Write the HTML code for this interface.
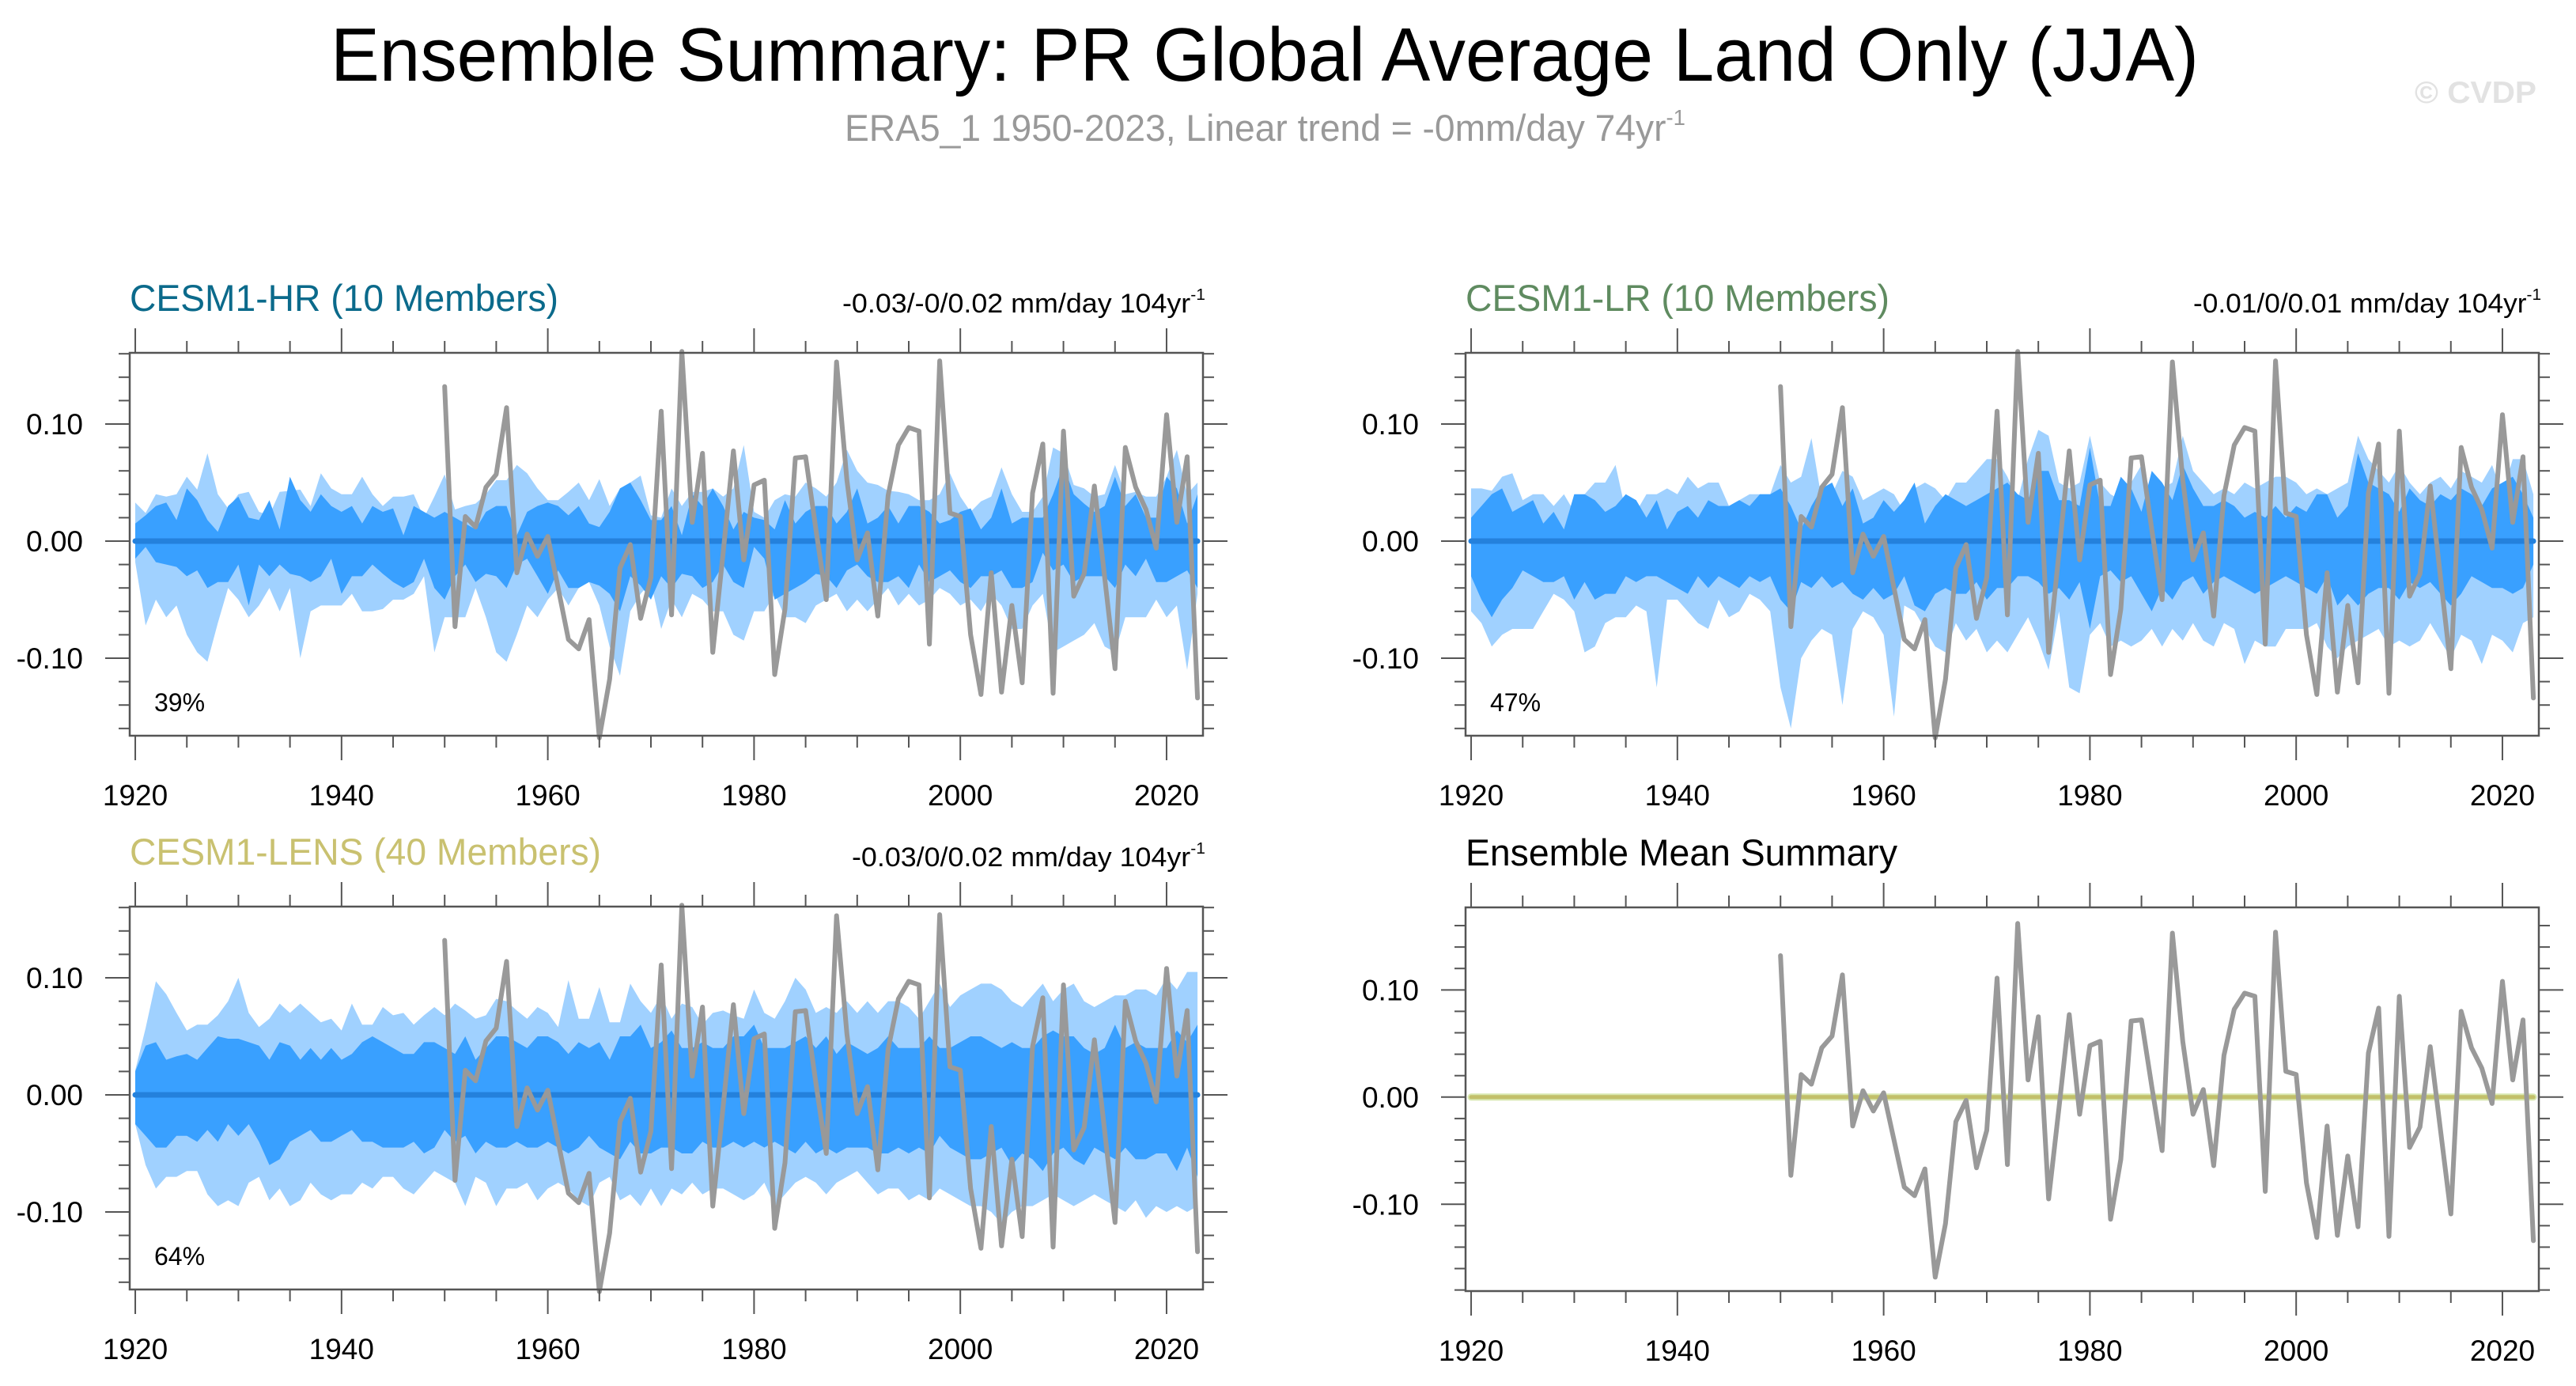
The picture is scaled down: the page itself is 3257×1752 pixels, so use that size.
<!DOCTYPE html>
<html><head><meta charset="utf-8"><title>Ensemble Summary</title>
<style>html,body{margin:0;padding:0;background:#fff}svg{display:block}text{font-family:"Liberation Sans",sans-serif}</style>
</head><body>
<svg id="root" xmlns="http://www.w3.org/2000/svg" width="3257" height="1752" viewBox="0 0 3257 1752">
<text x="418" y="102" font-size="96" textLength="2362" lengthAdjust="spacingAndGlyphs">Ensemble Summary: PR Global Average Land Only (JJA)</text>
<text x="1068" y="178" font-size="47" fill="#999" textLength="1063" lengthAdjust="spacingAndGlyphs">ERA5_1 1950-2023, Linear trend = -0mm/day 74yr<tspan font-size="28" dy="-20">-1</tspan></text>
<text x="3053" y="130" font-size="39" font-weight="bold" fill="#e2e2e2" textLength="154" lengthAdjust="spacingAndGlyphs">© CVDP</text>
<g id="panels"></g>
</svg>
<script>
const years = [];
for (let y = 1920; y <= 2023; y++) years.push(y);
const obsYears = [];
for (let y = 1950; y <= 2023; y++) obsYears.push(y);

const obsValues = [0.132,-0.073,0.021,0.012,0.046,0.057,0.114,-0.027,0.006,-0.013,
0.004,-0.040,-0.084,-0.092,-0.067,-0.168,-0.118,-0.023,-0.003,-0.066,
-0.031,0.111,-0.063,0.162,0.016,0.075,-0.095,-0.010,0.077,-0.016,
0.048,0.052,-0.114,-0.058,0.071,0.072,0.010,-0.050,0.153,0.052,
-0.016,0.007,-0.064,0.039,0.082,0.097,0.094,-0.088,0.154,0.024,
0.021,-0.080,-0.131,-0.027,-0.129,-0.055,-0.121,0.041,0.083,-0.130,
0.094,-0.047,-0.028,0.047,-0.031,-0.109,0.080,0.046,0.027,-0.006,
0.108,0.016,0.072,-0.134];

const ensMean = [0,0,0,0,0,0,0,0,0,0,0,0,0,0,0,0,0,0,0,0,0,0,0,0,0,0,0,0,0,0,0,0,0,0,0,0,0,0,0,0,0,0,0,0,0,0,0,0,0,0,0,0,0,0,0,0,0,0,0,0,0,0,0,0,0,0,0,0,0,0,0,0,0,0,0,0,0,0,0,0,0,0,0,0,0,0,0,0,0,0,0,0,0,0,0,0,0,0,0,0,0,0,0,0];

const hrLightUpper = [.033,.024,.040,.038,.040,.055,.044,.075,.040,.028,.040,.042,.025,.022,.042,.043,.044,.030,.058,.045,.040,.040,.055,.040,.030,.038,.038,.040,.020,.038,.057,.027,.030,.032,.040,.052,.052,.065,.058,.045,.035,.035,.042,.050,.035,.053,.030,.045,.050,.056,.022,.020,.045,.030,.042,.042,.045,.038,.045,.082,.025,.020,.035,.040,.038,.050,.045,.038,.050,.078,.060,.050,.048,.043,.042,.040,.035,.035,.040,.058,.038,.025,.034,.038,.063,.040,.025,.025,.038,.080,.075,.048,.045,.038,.040,.065,.040,.042,.038,.038,.055,.078,.040,.050];
const hrDarkUpper = [.015,.022,.030,.033,.018,.045,.035,.018,.008,.030,.038,.020,.018,.035,.010,.055,.035,.025,.040,.030,.025,.030,.015,.030,.025,.028,.005,.030,.025,.020,.025,.020,.015,.010,.025,.030,.030,.005,.025,.030,.033,.030,.022,.030,.015,.012,.025,.045,.050,.035,.018,.018,.030,.005,.040,.030,.045,.030,.010,.025,.020,.018,.010,.035,.015,.025,.030,.030,.015,.025,.045,.015,.020,.030,.015,.030,.030,.025,.015,.018,.025,.028,.010,.020,.045,.015,.020,.020,.020,.040,.065,.040,.032,.025,.030,.055,.030,.040,.020,.020,.055,.045,.015,.040];
const hrDarkLower = [-.015,-.005,-.018,-.020,-.022,-.030,-.025,-.040,-.035,-.035,-.020,-.055,-.020,-.030,-.020,-.028,-.030,-.035,-.030,-.015,-.045,-.030,-.030,-.020,-.028,-.035,-.040,-.035,-.015,-.040,-.050,-.030,-.020,-.035,-.028,-.030,-.040,-.020,-.015,-.030,-.045,-.025,-.040,-.040,-.035,-.038,-.045,-.060,-.030,-.038,-.050,-.030,-.040,-.028,-.030,-.040,-.035,-.020,-.035,-.040,-.005,-.015,-.050,-.045,-.040,-.035,-.028,-.030,-.040,-.025,-.020,-.030,-.035,-.035,-.030,-.040,-.020,-.035,-.030,-.025,-.035,-.040,-.030,-.030,-.025,-.040,-.040,-.035,-.010,-.025,-.020,-.035,-.030,-.030,-.030,-.040,-.020,-.030,-.015,-.035,-.035,-.030,-.025,-.040];
const hrLightLower = [-.018,-.072,-.050,-.065,-.055,-.080,-.095,-.103,-.070,-.040,-.050,-.065,-.055,-.040,-.060,-.040,-.100,-.060,-.055,-.055,-.055,-.045,-.060,-.060,-.058,-.050,-.050,-.045,-.030,-.095,-.065,-.065,-.065,-.040,-.065,-.095,-.103,-.080,-.055,-.065,-.050,-.040,-.055,-.040,-.035,-.055,-.090,-.115,-.060,-.045,-.035,-.075,-.050,-.065,-.045,-.050,-.060,-.060,-.080,-.085,-.060,-.060,-.045,-.065,-.065,-.070,-.055,-.050,-.045,-.060,-.050,-.060,-.050,-.040,-.055,-.045,-.055,-.050,-.040,-.045,-.055,-.050,-.060,-.045,-.055,-.075,-.075,-.055,-.045,-.095,-.090,-.085,-.080,-.070,-.090,-.095,-.065,-.065,-.065,-.050,-.065,-.055,-.110,-.045];

const lrLightUpper = [.045,.045,.043,.055,.058,.035,.040,.040,.030,.040,.025,.040,.050,.050,.065,.025,.025,.040,.040,.045,.040,.055,.045,.050,.050,.030,.035,.040,.040,.040,.065,.050,.055,.088,.035,.040,.060,.055,.035,.040,.045,.040,.025,.045,.050,.045,.035,.050,.050,.060,.070,.070,.055,.035,.070,.095,.090,.050,.045,.050,.090,.050,.040,.035,.050,.065,.040,.045,.050,.090,.060,.050,.040,.045,.040,.050,.045,.050,.055,.055,.050,.040,.045,.040,.045,.050,.090,.070,.060,.050,.065,.050,.040,.050,.055,.045,.060,.055,.050,.065,.040,.070,.070,.040];
const lrDarkUpper = [.020,.030,.040,.045,.025,.030,.035,.015,.025,.010,.040,.040,.035,.025,.030,.040,.035,.020,.035,.010,.025,.030,.020,.035,.030,.030,.035,.030,.040,.040,.045,.030,.010,.030,.045,.050,.030,.045,.015,.020,.035,.025,.035,.050,.015,.030,.040,.035,.030,.035,.040,.045,.050,.040,.035,.060,.060,.035,.035,.030,.080,.030,.030,.055,.045,.025,.060,.050,.035,.065,.045,.030,.030,.035,.030,.020,.025,.020,.030,.020,.030,.025,.040,.040,.020,.030,.075,.050,.045,.040,.025,.045,.035,.030,.040,.035,.045,.040,.030,.045,.050,.055,.040,.020];
const lrDarkLower = [-.030,-.050,-.065,-.050,-.040,-.025,-.030,-.035,-.035,-.030,-.050,-.035,-.050,-.045,-.045,-.030,-.035,-.030,-.030,-.035,-.040,-.045,-.030,-.040,-.030,-.035,-.040,-.030,-.035,-.030,-.050,-.060,-.035,-.040,-.030,-.040,-.035,-.045,-.050,-.040,-.050,-.045,-.030,-.055,-.060,-.045,-.040,-.045,-.045,-.035,-.050,-.040,-.040,-.030,-.030,-.035,-.045,-.040,-.050,-.035,-.075,-.030,-.025,-.035,-.030,-.045,-.060,-.040,-.050,-.035,-.030,-.045,-.035,-.030,-.035,-.040,-.045,-.040,-.035,-.030,-.035,-.040,-.045,-.030,-.055,-.045,-.055,-.045,-.040,-.040,-.050,-.035,-.040,-.035,-.045,-.055,-.045,-.030,-.035,-.040,-.040,-.045,-.040,-.020];
const lrLightLower = [-.060,-.070,-.090,-.080,-.075,-.075,-.075,-.060,-.045,-.050,-.060,-.095,-.090,-.070,-.065,-.065,-.055,-.060,-.125,-.050,-.050,-.060,-.070,-.075,-.050,-.065,-.060,-.045,-.050,-.060,-.125,-.160,-.100,-.085,-.075,-.080,-.140,-.075,-.060,-.065,-.080,-.150,-.055,-.060,-.075,-.090,-.095,-.070,-.085,-.075,-.095,-.085,-.095,-.080,-.065,-.085,-.110,-.060,-.125,-.130,-.080,-.070,-.090,-.085,-.090,-.085,-.075,-.090,-.075,-.085,-.070,-.085,-.090,-.070,-.075,-.105,-.085,-.090,-.090,-.075,-.075,-.075,-.070,-.090,-.100,-.090,-.085,-.080,-.075,-.090,-.085,-.090,-.085,-.070,-.085,-.100,-.080,-.085,-.105,-.080,-.085,-.095,-.070,-.065];

const lensLightUpper = [.021,.057,.097,.086,.070,.055,.060,.060,.068,.080,.100,.070,.058,.065,.078,.070,.078,.070,.062,.065,.055,.078,.060,.060,.075,.068,.070,.060,.068,.075,.068,.078,.072,.065,.068,.082,.080,.072,.065,.075,.070,.058,.098,.065,.065,.092,.062,.062,.095,.080,.070,.085,.065,.078,.075,.060,.070,.072,.068,.065,.090,.070,.065,.080,.100,.090,.070,.075,.070,.080,.070,.080,.070,.080,.080,.075,.065,.080,.095,.075,.085,.090,.095,.095,.090,.080,.075,.085,.095,.080,.090,.095,.080,.075,.080,.085,.085,.090,.090,.085,.100,.090,.105,.105];
const lensDarkUpper = [.020,.042,.045,.030,.033,.035,.030,.040,.050,.048,.048,.045,.042,.030,.045,.042,.030,.040,.030,.040,.030,.035,.045,.050,.045,.040,.035,.035,.045,.045,.040,.035,.050,.030,.040,.050,.050,.045,.040,.050,.050,.045,.035,.045,.040,.045,.030,.050,.050,.060,.040,.045,.055,.040,.040,.045,.040,.040,.050,.050,.060,.040,.040,.040,.045,.050,.040,.050,.035,.045,.040,.035,.040,.050,.040,.040,.040,.050,.040,.040,.045,.050,.050,.045,.040,.045,.040,.040,.050,.055,.050,.050,.040,.035,.040,.060,.040,.045,.040,.040,.040,.055,.045,.060];
const lensDarkLower = [-.025,-.035,-.045,-.045,-.035,-.035,-.040,-.030,-.040,-.025,-.035,-.025,-.040,-.060,-.055,-.040,-.035,-.030,-.040,-.040,-.035,-.030,-.040,-.040,-.045,-.045,-.045,-.040,-.050,-.045,-.030,-.040,-.035,-.050,-.040,-.045,-.045,-.040,-.045,-.045,-.040,-.045,-.050,-.045,-.035,-.045,-.050,-.055,-.040,-.050,-.050,-.045,-.045,-.050,-.050,-.040,-.045,-.045,-.040,-.045,-.040,-.045,-.040,-.045,-.050,-.040,-.050,-.045,-.050,-.045,-.045,-.045,-.050,-.050,-.045,-.050,-.045,-.050,-.035,-.045,-.050,-.055,-.055,-.050,-.045,-.060,-.050,-.055,-.065,-.050,-.045,-.055,-.060,-.045,-.050,-.055,-.045,-.055,-.055,-.050,-.050,-.065,-.045,-.070];
const lensLightLower = [-.025,-.060,-.080,-.070,-.070,-.065,-.065,-.085,-.095,-.090,-.095,-.075,-.070,-.090,-.080,-.095,-.090,-.075,-.085,-.090,-.085,-.085,-.075,-.080,-.070,-.070,-.080,-.085,-.075,-.065,-.070,-.075,-.095,-.070,-.075,-.095,-.080,-.080,-.075,-.090,-.080,-.075,-.080,-.090,-.095,-.075,-.070,-.090,-.085,-.095,-.080,-.095,-.080,-.085,-.075,-.085,-.080,-.080,-.085,-.090,-.085,-.075,-.095,-.085,-.075,-.070,-.075,-.085,-.075,-.070,-.065,-.075,-.085,-.080,-.080,-.090,-.085,-.090,-.080,-.085,-.090,-.095,-.095,-.100,-.110,-.100,-.095,-.095,-.090,-.085,-.090,-.095,-.090,-.085,-.090,-.095,-.100,-.090,-.105,-.095,-.100,-.095,-.100,-.095];

const xTickLabels = ["1920","1940","1960","1980","2000","2020"];
const yTickLabels = ["-0.10","0.00","0.10"];

const NS = "http://www.w3.org/2000/svg";
const root = document.getElementById('panels');
function mk(tag, attrs, parent) {
  const e = document.createElementNS(NS, tag);
  for (const k in attrs) e.setAttribute(k, attrs[k]);
  (parent || root).appendChild(e);
  return e;
}

const panels = [
  {key:'hr', left:164, top:446, right:1521, bottom:930, ymin:-0.1662, ymax:0.1608, title:'CESM1-HR (10 Members)', tw:542, tcol:'#0b6a8b', trend:'-0.03/-0/0.02 mm/day 104yr', trw:459, pct:'39%', bands:[hrLightUpper,hrDarkUpper,hrDarkLower,hrLightLower]},
  {key:'lr', left:1853, top:446, right:3210, bottom:930, ymin:-0.1662, ymax:0.1608, title:'CESM1-LR (10 Members)', tw:536, tcol:'#5f8b60', trend:'-0.01/0/0.01 mm/day 104yr', trw:440, pct:'47%', bands:[lrLightUpper,lrDarkUpper,lrDarkLower,lrLightLower]},
  {key:'lens', left:164, top:1146, right:1521, bottom:1630, ymin:-0.1662, ymax:0.1608, title:'CESM1-LENS (40 Members)', tw:596, tcol:'#c9c170', trend:'-0.03/0/0.02 mm/day 104yr', trw:447, pct:'64%', bands:[lensLightUpper,lensDarkUpper,lensDarkLower,lensLightLower]},
  {key:'summary', left:1853, top:1147, right:3210, bottom:1632, ymin:-0.181, ymax:0.177, title:'Ensemble Mean Summary', tw:546, tcol:'#000', trend:null, pct:null, bands:null}
];
const XMIN = 1919.46, XMAX = 2023.53;

panels.forEach(p => {
  const g = mk('g', {});
  
  
  const sx = v => p.left + (v - XMIN) / (XMAX - XMIN) * (p.right - p.left);
  const sy = v => p.top + (p.ymax - v) / (p.ymax - p.ymin) * (p.bottom - p.top);

  const t = mk('text', {x:p.left, y:p.top-53, 'font-size':47, fill:p.tcol, textLength:p.tw, lengthAdjust:'spacingAndGlyphs'}, g);
  t.textContent = p.title;
  
  
  if (p.trend) {
    const tr = mk('text', {x:p.right+3-p.trw, y:p.top-51, 'font-size':34, textLength:p.trw, lengthAdjust:'spacingAndGlyphs'}, g);
    tr.textContent = p.trend;
    const sup = mk('tspan', {'font-size':20, dy:-16}, tr);
    sup.textContent = '-1';
    
    
  }

  if (p.bands) {
    const n = Math.min(years.length, p.bands[0].length, p.bands[1].length, p.bands[2].length, p.bands[3].length);
    const band = (up, lo, col, name) => {
      let d = '';
      for (let i = 0; i < n; i++) d += (i ? 'L' : 'M') + sx(years[i]).toFixed(1) + ',' + sy(up[i]).toFixed(1);
      for (let i = n - 1; i >= 0; i--) d += 'L' + sx(years[i]).toFixed(1) + ',' + sy(lo[i]).toFixed(1);
      const e = mk('path', {d: d + 'Z', fill: col}, g);
      
      
    };
    band(p.bands[0], p.bands[3], '#a0d1ff', 'outer-spread-band-' + p.key);
    band(p.bands[1], p.bands[2], '#39a0ff', 'inner-spread-band-' + p.key);
    let d = '';
    for (let i = 0; i < n; i++) d += (i ? 'L' : 'M') + sx(years[i]).toFixed(1) + ',' + sy(ensMean[i]).toFixed(1);
    const m = mk('path', {d, fill:'none', stroke:'#2481dc', 'stroke-width':7, 'stroke-linecap':'round'}, g);
    
    
  } else {
    let d = '';
    for (let i = 0; i < years.length; i++) d += (i ? 'L' : 'M') + sx(years[i]).toFixed(1) + ',' + sy(ensMean[i]).toFixed(1);
    const m0 = mk('path', {d, fill:'none', stroke:'#d8e8b0', 'stroke-width':9, 'stroke-linecap':'round'}, g);
    
    
    const m = mk('path', {d, fill:'none', stroke:'#c2c06a', 'stroke-width':5, 'stroke-linecap':'round'}, g);
    
    
  }

  let od = '';
  obsValues.forEach((v, i) => { od += (i ? 'L' : 'M') + sx(obsYears[i]).toFixed(1) + ',' + sy(v).toFixed(1); });
  const ol = mk('path', {d: od, fill:'none', stroke:'#999999', 'stroke-width':6, 'stroke-linejoin':'round', 'stroke-linecap':'round'}, g);
  
  

  const fr = mk('rect', {x:p.left, y:p.top, width:p.right-p.left, height:p.bottom-p.top, fill:'none', stroke:'#555', 'stroke-width':2.5}, g);
  
  

  for (let yr = 1920; yr <= 2020; yr += 5) {
    const x = sx(yr), major = yr % 20 === 0, L = major ? 31 : 15;
    mk('line', {x1:x, x2:x, y1:p.bottom, y2:p.bottom+L, stroke:'#555', 'stroke-width':2}, g);
    mk('line', {x1:x, x2:x, y1:p.top, y2:p.top-L, stroke:'#555', 'stroke-width':2}, g);
  }
  xTickLabels.forEach(lbl => {
    const tx = mk('text', {x:sx(+lbl), y:p.bottom+88, 'font-size':37, 'text-anchor':'middle'}, g);
    tx.textContent = lbl;
    
    
  });
  for (let k = -9; k <= 9; k++) {
    const v = k * 0.02;
    if (v < p.ymin || v > p.ymax) continue;
    const y = sy(v), major = (k % 5 === 0), L = major ? 31 : 14;
    mk('line', {x1:p.left, x2:p.left-L, y1:y, y2:y, stroke:'#555', 'stroke-width':2}, g);
    mk('line', {x1:p.right, x2:p.right+L, y1:y, y2:y, stroke:'#555', 'stroke-width':2}, g);
  }
  yTickLabels.forEach(lbl => {
    const ty = mk('text', {x:p.left-59, y:sy(+lbl)+13, 'font-size':37, 'text-anchor':'end'}, g);
    ty.textContent = lbl;
    
    
  });
  if (p.pct) {
    const pc = mk('text', {x:p.left+31, y:p.bottom-31, 'font-size':32}, g);
    pc.textContent = p.pct;
    
    
  }
});
</script>
</body></html>
